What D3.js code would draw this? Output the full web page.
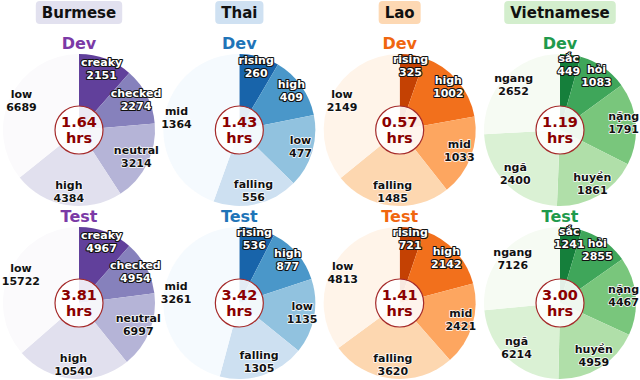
<!doctype html>
<html>
<head>
<meta charset="utf-8"/>
<title>Tone distribution</title>
<script src="https://d3js.org/d3.v7.min.js"></script>
<style>
 body { margin:0; background:#fff; }
 text { font-family: "DejaVu Sans", sans-serif; font-weight:bold; }
</style>
</head>
<body>
<script>
// data
var languages = ["Burmese", "Thai", "Lao", "Vietnamese"];

var burmeseTones = ["creaky", "checked", "neutral", "high", "low"];
var burmeseDev   = [2151, 2274, 3214, 4384, 6689];
var burmeseTest  = [4967, 4954, 6997, 10540, 15722];

var thaiTones = ["rising", "high", "low", "falling", "mid"];
var thaiDev   = [260, 409, 477, 556, 1364];
var thaiTest  = [536, 877, 1135, 1305, 3261];

var laoTones = ["rising", "high", "mid", "falling", "low"];
var laoDev   = [325, 1002, 1033, 1485, 2149];
var laoTest  = [721, 2142, 2421, 3620, 4813];

var vietTones = ["sắc", "hỏi", "nặng", "huyền", "ngã", "ngang"];
var vietDev   = [449, 1083, 1791, 1861, 2400, 2652];
var vietTest  = [1241, 2855, 4467, 4959, 6214, 7126];

var hoursDev  = ["1.64", "1.43", "0.57", "1.19"];
var hoursTest = ["3.81", "3.42", "1.41", "3.00"];

var tones    = [burmeseTones, thaiTones, laoTones, vietTones];
var devVals  = [burmeseDev, thaiDev, laoDev, vietDev];
var testVals = [burmeseTest, thaiTest, laoTest, vietTest];

var schemes = [d3.interpolatePurples, d3.interpolateBlues, d3.interpolateOranges, d3.interpolateGreens];
var titleColors = ["#7b3aa6", "#1f74b8", "#f0660f", "#1f9a4c"];

var W = 640, H = 380;
var R = 76;
var svg = d3.select("body").append("svg").attr("width", W).attr("height", H);

var xCol = d3.scalePoint().domain(languages).range([79, 560]);

function drawPie(g, names, vals, hrs, interp, label, labelColor, cy) {
  var n = names.length;
  var data = names.map(function(d, i){ return {name:d, value:vals[i], idx:i}; });
  var pie = d3.pie().sort(null).value(function(d){ return d.value; });
  var arcs = pie(data);
  var arc = d3.arc().innerRadius(0).outerRadius(R);
  var labelArc = d3.arc().innerRadius(R*0.84).outerRadius(R*0.84);
  var shade = d3.scaleLinear().domain([0, n-1]).range([0.8, 0.01]);

  var pg = g.append("g").attr("transform", "translate(0," + cy + ")");
  pg.selectAll("path").data(arcs).enter().append("path")
    .attr("d", arc)
    .attr("fill", function(d){ return interp(shade(d.data.idx)); });

  var lab = pg.selectAll("g.lab").data(arcs).enter().append("g")
    .attr("class", "lab")
    .attr("transform", function(d){ return "translate(" + labelArc.centroid(d) + ")"; });
  [[d => d.data.name, -4.5], [d => d.data.value, 8.5]].forEach(function(p){
    lab.append("text")
      .attr("y", p[1])
      .attr("text-anchor", "middle")
      .attr("font-size", 11)
      .attr("paint-order", "stroke")
      .attr("stroke-linejoin", "round")
      .attr("stroke", function(d){ return d.data.idx < 2 ? "#111" : "#fff"; })
      .attr("stroke-width", function(d){ return d.data.idx < 2 ? 2.2 : 1.5; })
      .attr("fill", function(d){ return d.data.idx < 2 ? "#fff" : "#111"; })
      .text(p[0]);
  });

  // hours badge
  pg.append("circle").attr("r", 24)
    .attr("fill", "#fff").attr("fill-opacity", 0.88)
    .attr("stroke", "#a52a2a").attr("stroke-width", 1.2);
  pg.append("text").attr("y", -3).attr("text-anchor", "middle")
    .attr("font-size", 14.5).attr("fill", "#8b0000").text(hrs);
  pg.append("text").attr("y", 13).attr("text-anchor", "middle")
    .attr("font-size", 14.5).attr("fill", "#8b0000").text("hrs");

  g.append("text").attr("y", cy - R - 5).attr("text-anchor", "middle")
    .attr("font-size", 16).attr("fill", labelColor).text(label);
}

languages.forEach(function(lang, i){
  var g = svg.append("g").attr("transform", "translate(" + xCol(lang) + ",0)");
  var t = g.append("text").attr("y", 18).attr("text-anchor", "middle")
    .attr("font-size", 15).attr("fill", "#111").text(lang);
  var bb = t.node().getBBox();
  g.insert("rect", "text")
    .attr("x", bb.x - 6).attr("y", 1)
    .attr("width", bb.width + 12).attr("height", 23)
    .attr("rx", 4)
    .attr("fill", schemes[i](0.2));

  drawPie(g, tones[i], devVals[i], hoursDev[i], schemes[i], "Dev", titleColors[i], 130);
  drawPie(g, tones[i], testVals[i], hoursTest[i], schemes[i], "Test", titleColors[i], 303);
});
</script>
</body>
</html>
